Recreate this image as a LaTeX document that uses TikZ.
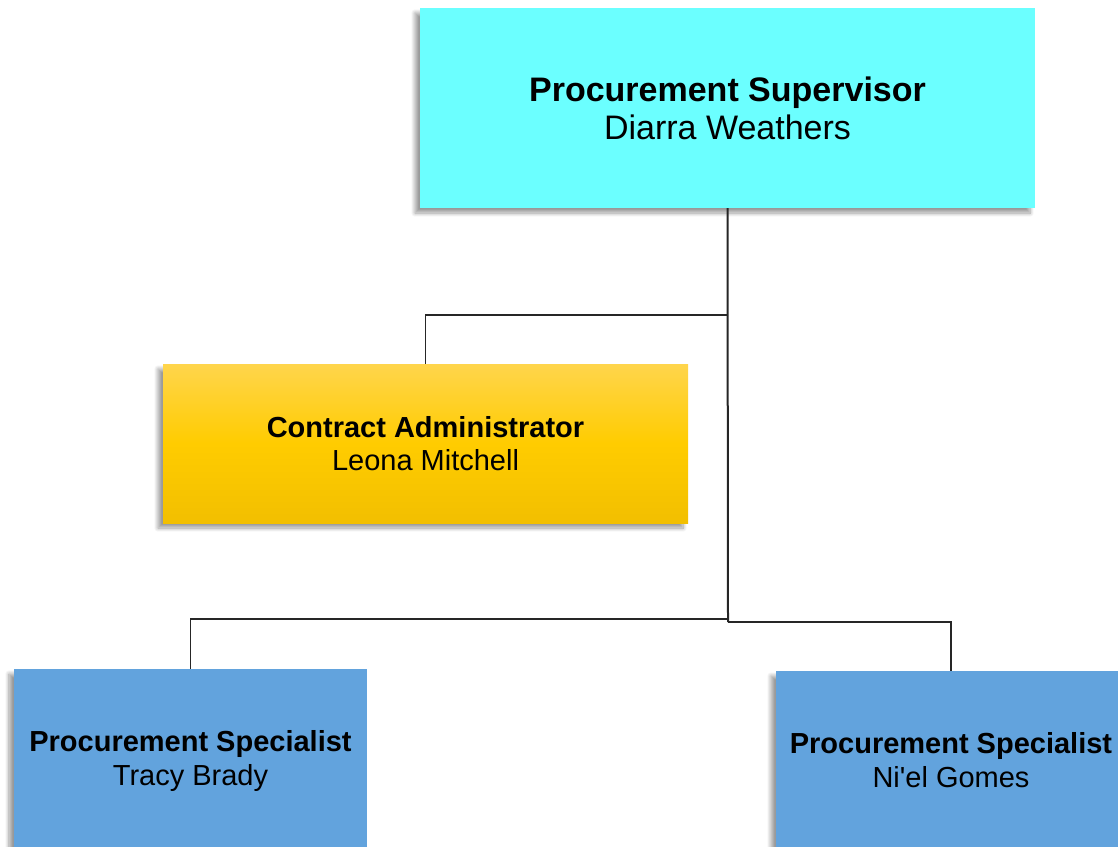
\documentclass[tikz,border=0pt]{standalone}
\usepackage{fontspec}
\setmainfont{Liberation Sans}
\usetikzlibrary{shadows.blur}
\definecolor{supcyan}{HTML}{6BFFFF}
\definecolor{specblue}{HTML}{62A3DD}
\definecolor{admtop}{HTML}{FFD54C}
\definecolor{admmid}{HTML}{FFCC00}
\definecolor{admbot}{HTML}{F2BF00}
\begin{document}
\begin{tikzpicture}[x=1pt,y=-1pt,
        role/.style={rectangle, align=center, inner sep=0pt,
            blur shadow={shadow xshift=-5pt, shadow yshift=-5pt, shadow blur steps=8, shadow blur radius=4pt, shadow opacity=40}},
        link/.style={line width=1.5pt, black!85}]
        \useasboundingbox (0,0) rectangle (1118,846);
        \node [role, fill=supcyan, minimum width=615pt, minimum height=200pt,
            font=\fontsize{34}{38}\selectfont] (Sup) at (727.5,108) {\textbf{Procurement Supervisor}\\Diarra Weathers};
        \node [role, top color=admtop, bottom color=admbot, middle color=admmid, minimum width=525pt, minimum height=159pt,
            font=\fontsize{29}{33}\selectfont] (Adm) at (425.5,443.5) {\textbf{Contract Administrator}\\Leona Mitchell};
        \node [role, fill=specblue, minimum width=353pt, minimum height=184pt,
            font=\fontsize{29}{34}\selectfont] (SpA) at (190.5,761) {\textbf{Procurement Specialist}\\Tracy Brady};
        \node [role, fill=specblue, minimum width=350pt, minimum height=178pt,
            font=\fontsize{29}{34}\selectfont] (SpB) at (951,760) {\textbf{Procurement Specialist}\\Ni\textquotesingle el Gomes};
        \coordinate (J1) at (728,315);
        \coordinate (J2) at (728,619);
        \coordinate (J3) at (728,622);
        \draw [link, line width=2pt] (Sup.south) -- (J3);
        \draw [link] (J1) -| (Adm.north);
        \draw [link] (J2) -| (SpA.north);
        \draw [link] (J3) -| (SpB.north);
    \end{tikzpicture}
\end{document}
